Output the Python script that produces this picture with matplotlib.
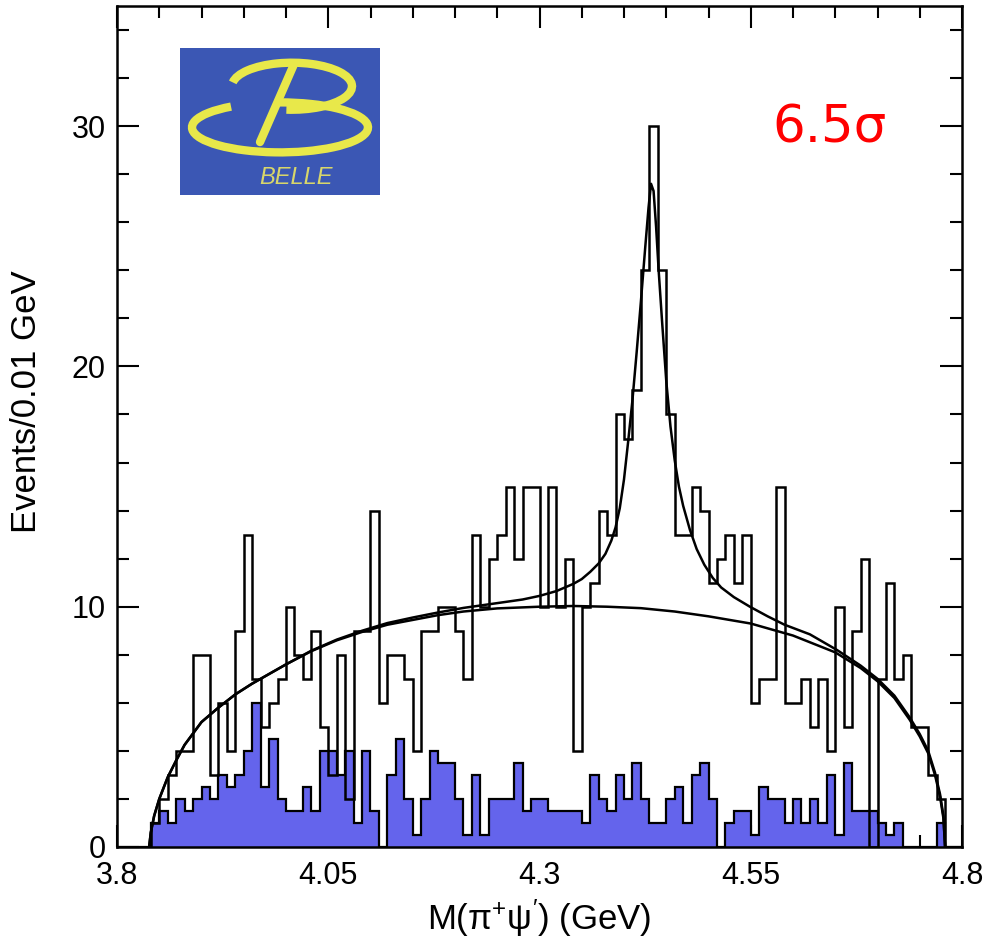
import numpy as np
import matplotlib
matplotlib.use('Agg')
import matplotlib.pyplot as plt
from matplotlib.patches import Arc
from matplotlib.ticker import MultipleLocator, FixedLocator

plt.rcParams['font.family'] = ['Liberation Sans', 'DejaVu Sans']
plt.rcParams['mathtext.default'] = 'regular'

# bin edges: 0.01 GeV bins from 3.80 to 4.80
bin_lo = 3.80
bin_w = 0.01

# events per bin (data, open histogram)
data_counts = [0, 0, 0, 0,
               1, 2, 3, 4, 4, 8, 8, 3, 6, 4,
               9, 13, 7, 5, 6, 7, 10, 8, 7, 9,
               5, 3, 8, 2, 9, 9, 14, 6, 8, 8,
               7, 4, 9, 9, 10, 10, 9, 7, 13, 10,
               12, 13, 15, 12, 15, 15, 10, 15, 10, 12,
               4, 10, 11, 14, 13, 18, 17, 19, 24, 30,
               24, 18, 13, 13, 15, 14, 11, 12, 13, 11,
               13, 6, 7, 7, 15, 6, 6, 7, 5, 7,
               4, 10, 5, 9, 12, 0, 7, 11, 7, 8,
               5, 5, 3, 2, 0, 0]

# sideband background (blue filled histogram)
sideband = [0, 0, 0, 0,
            1, 1.5, 1, 2, 1.5, 2, 2.5, 2, 3, 2.5,
            3, 4, 6, 2.5, 4.5, 2, 1.5, 1.5, 2.5, 1.5,
            4, 4, 3, 4, 1, 4, 1.5, 0, 3, 4.5,
            2, 0.5, 2, 4, 3.5, 3.5, 2, 0.5, 3, 0.5,
            2, 2, 2, 3.5, 1.5, 2, 2, 1.5, 1.5, 1.5,
            1.5, 1, 3, 2, 1.5, 3, 2, 3.5, 2, 1,
            1, 2, 2.5, 1, 3, 3.5, 2, 0, 1, 1.5,
            1.5, 0.5, 2.5, 2, 2, 1, 2, 1, 2, 1,
            3, 0.5, 3.5, 1.5, 1.5, 1.5, 1, 0.5, 1, 0,
            0, 0, 0, 1, 0, 0]

# background fit curve
bkg_x = [3.838, 3.840, 3.844, 3.850, 3.860, 3.870, 3.880, 3.900, 3.920, 3.940,
         3.960, 3.980, 4.000, 4.030, 4.060, 4.090, 4.120, 4.150, 4.180, 4.210,
         4.250, 4.300, 4.340, 4.380, 4.420, 4.460, 4.500, 4.550, 4.600, 4.650,
         4.680, 4.700, 4.720, 4.738, 4.750, 4.760, 4.768, 4.774, 4.778, 4.780]
bkg_y = [0, 0.6, 1.3, 2.0, 2.9, 3.6, 4.25, 5.2, 5.8, 6.35,
         6.8, 7.2, 7.6, 8.15, 8.6, 8.95, 9.25, 9.45, 9.65, 9.8,
         9.93, 10.0, 10.03, 10.0, 9.94, 9.8, 9.6, 9.3, 8.8, 8.1,
         7.45, 6.9, 6.2, 5.3, 4.6, 3.9, 3.0, 2.1, 1.2, 0]

# total fit (signal + background)
tot_x = [3.838, 3.840, 3.844, 3.850, 3.860, 3.870, 3.880, 3.900, 3.920, 3.940,
         3.960, 3.980, 4.000, 4.030, 4.060, 4.090, 4.120, 4.150, 4.180, 4.210,
         4.250, 4.280, 4.300, 4.320, 4.340, 4.350, 4.360, 4.370, 4.378, 4.385,
         4.390, 4.395, 4.400, 4.405, 4.410, 4.415, 4.420, 4.425, 4.429, 4.432,
         4.435, 4.438, 4.441, 4.445, 4.450, 4.455, 4.460, 4.465, 4.470, 4.478,
         4.486, 4.495, 4.505, 4.515, 4.530, 4.549, 4.570, 4.590, 4.620, 4.652,
         4.680, 4.700, 4.720, 4.738, 4.750, 4.760, 4.768, 4.774, 4.778, 4.780]
tot_y = [0, 0.6, 1.3, 2.0, 2.9, 3.6, 4.25, 5.2, 5.8, 6.35,
         6.8, 7.2, 7.6, 8.17, 8.63, 9.0, 9.32, 9.55, 9.76, 9.95,
         10.15, 10.3, 10.45, 10.65, 10.95, 11.15, 11.45, 11.8, 12.2, 12.75,
         13.3, 14.1, 15.3, 16.9, 18.6, 20.6, 22.7, 24.9, 26.6, 27.6,
         27.3, 25.8, 24.0, 21.9, 19.4, 17.5, 16.1, 15.0, 14.2, 13.2,
         12.4, 11.75, 11.2, 10.8, 10.4, 10.0, 9.6, 9.25, 8.85, 8.2,
         7.55, 7.0, 6.3, 5.4, 4.7, 4.0, 3.1, 2.2, 1.3, 0]

x_ticks = [3.8, 4.05, 4.3, 4.55, 4.8]
x_ticklabels = ['3.8', '4.05', '4.3', '4.55', '4.8']
y_ticks = [0, 10, 20, 30]

W, H = 987, 944
fig = plt.figure(figsize=(W / 100, H / 100), dpi=100)
ax = fig.add_axes([117 / W, 1 - 847 / H, 845 / W, 841 / H])

edges = bin_lo + bin_w * np.arange(len(data_counts) + 1)

ax.stairs(sideband, edges, baseline=0, fill=True, facecolor='#6464ec',
          edgecolor='none', zorder=2)
ax.stairs(sideband, edges, baseline=0, color='black', linewidth=1.6, zorder=3)
ax.stairs(data_counts, edges, baseline=0, color='black', linewidth=1.8, zorder=4)

ax.plot(bkg_x, bkg_y, color='black', linewidth=1.8, zorder=5)
ax.plot(tot_x, tot_y, color='black', linewidth=1.8, zorder=5)

ax.set_xlim(3.8, 4.8)
ax.set_ylim(0, 35)
ax.xaxis.set_major_locator(FixedLocator(x_ticks))
ax.set_xticklabels(x_ticklabels)
ax.xaxis.set_minor_locator(MultipleLocator(0.05))
ax.yaxis.set_major_locator(FixedLocator(y_ticks))
ax.yaxis.set_minor_locator(MultipleLocator(2))
ax.tick_params(which='both', direction='in', top=True, right=True,
               width=1.5, labelsize=22)
ax.tick_params(which='major', length=16)
ax.tick_params(which='minor', length=8.5)
ax.tick_params(axis='x', pad=10)
ax.tick_params(axis='y', pad=8)
for s in ax.spines.values():
    s.set_linewidth(1.8)

ax.set_xlabel(r"M($\pi^{+}\psi^{\prime}$) (GeV)", fontsize=25)
ax.xaxis.set_label_coords(0.5, -0.06)
ax.set_ylabel('Events/0.01 GeV', fontsize=25)
ax.yaxis.set_label_coords(-0.088, 0.53)

ax.text(4.643, 29.9, '6.5σ', color='#ff0000', fontsize=37,
        family='DejaVu Sans', ha='center', va='center')

# Belle logo
logo = fig.add_axes([180 / W, 1 - 195 / H, 200 / W, 147 / H])
logo.set_facecolor('#3b57b4')
logo.set_xlim(0, 1)
logo.set_ylim(0, 1)
logo.set_xticks([])
logo.set_yticks([])
for s in logo.spines.values():
    s.set_visible(False)
yel = '#e8e84a'
logo.add_patch(Arc((0.56, 0.74), 0.60, 0.32, angle=0, theta1=-100, theta2=175,
                   color=yel, linewidth=6))
logo.add_patch(Arc((0.50, 0.46), 0.88, 0.34, angle=0, theta1=150, theta2=450,
                   color=yel, linewidth=6))
logo.plot([0.567, 0.40], [0.88, 0.36], color=yel, linewidth=6,
          solid_capstyle='round')
logo.text(0.58, 0.12, 'BELLE', color='#d8d66a', fontsize=17, style='italic',
          ha='center', va='center')

fig.savefig('out.png', dpi=100)
